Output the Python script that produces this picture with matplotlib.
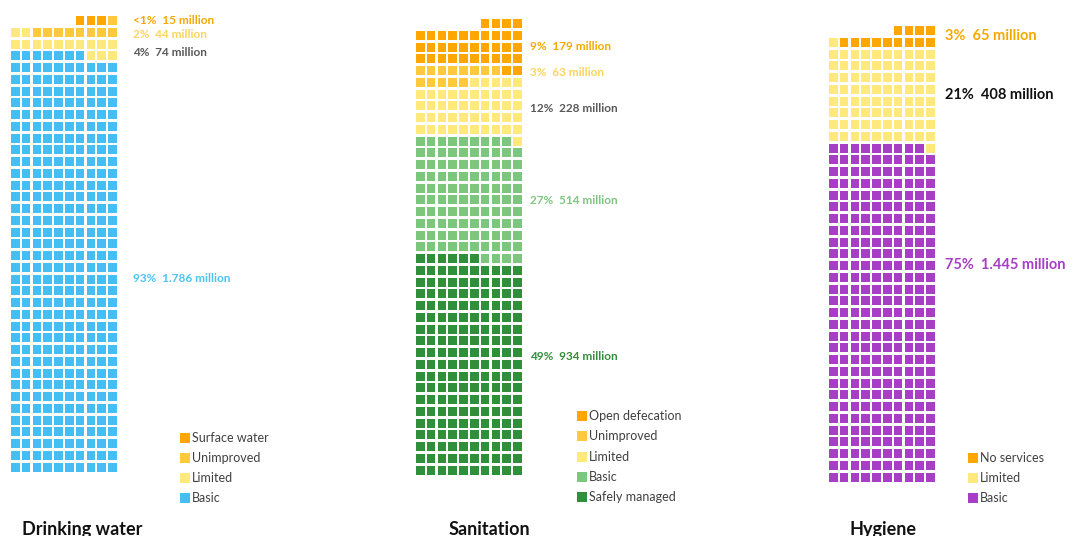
import matplotlib.pyplot as plt
from matplotlib.patches import Rectangle

plt.rcParams['font.family'] = ['Lato', 'DejaVu Sans']

# people (millions) per service level, worst level first
water_labels = ["Surface water", "Unimproved", "Limited", "Basic"]
water_values = [15, 44, 74, 1786]
water_pct = ["<1%", "2%", "4%", "93%"]

san_labels = ["Open defecation", "Unimproved", "Limited", "Basic", "Safely managed"]
san_values = [179, 63, 228, 514, 934]
san_pct = ["9%", "3%", "12%", "27%", "49%"]

hyg_labels = ["No services", "Limited", "Basic"]
hyg_values = [65, 408, 1445]
hyg_pct = ["3%", "21%", "75%"]

titles = ["Drinking water", "Sanitation", "Hygiene"]

MILLION_PER_SQUARE = 5
TOTAL_SQUARES = 384
NCOLS = 10

ORANGE = "#FFA600"
UNIMP = "#FFC93E"
LIMITED = "#FFE97C"

panels = [
    dict(labels=water_labels, values=water_values, pct=water_pct,
         colors=[ORANGE, UNIMP, LIMITED, "#45BEF4"],
         text_colors=["#F7A800", "#FFD35C", "#595959", "#4CC2F5"],
         x0=11, y0=16, first_dir=1, snake=True,
         label_x=133, label_y=[20, 34, 52, 278], label_size=8.5,
         leg_x=180, leg_y=[438, 458, 478, 498],
         title_x=22, title_ha="left"),
    dict(labels=san_labels, values=san_values, pct=san_pct,
         colors=[ORANGE, UNIMP, LIMITED, "#7CC67E", "#2F8F3A"],
         text_colors=["#F7A800", "#FFD35C", "#595959", "#7CC67E", "#2F8F3A"],
         x0=416, y0=19, first_dir=-1, snake=True,
         label_x=530, label_y=[46, 72, 109, 201, 357], label_size=8.5,
         leg_x=577, leg_y=[416, 436, 457, 477, 497],
         title_x=489, title_ha="center"),
    dict(labels=hyg_labels, values=hyg_values, pct=hyg_pct,
         colors=[ORANGE, LIMITED, "#A83EC6"],
         text_colors=["#F7A800", "#111111", "#A83EC6"],
         x0=829, y0=26, first_dir=-1, snake=False,
         label_x=945, label_y=[36, 95, 265], label_size=10.5,
         leg_x=968, leg_y=[458, 478, 498],
         title_x=883, title_ha="center"),
]

PITCH_X = 10.8
PITCH_Y = 11.75
SQ_W = 8.6
SQ_H = 9.2


def square_counts(values):
    counts = [round(v / MILLION_PER_SQUARE) for v in values]
    counts[-1] += TOTAL_SQUARES - sum(counts)
    return counts


def cell_order(total, first_dir, snake):
    nrows = -(-total // NCOLS)
    top = total - (nrows - 1) * NCOLS
    cells = []
    for r in range(nrows):
        d = first_dir if (not snake or r % 2 == 0) else -first_dir
        cols = list(range(NCOLS - top, NCOLS)) if r == 0 else list(range(NCOLS))
        if d < 0:
            cols = cols[::-1]
        cells += [(r, c) for c in cols]
    return cells


fig = plt.figure(figsize=(10.79, 5.36), dpi=100)
ax = fig.add_axes([0, 0, 1, 1])
ax.set_xlim(0, 1079)
ax.set_ylim(536, 0)
ax.axis("off")

for p, title in zip(panels, titles):
    counts = square_counts(p["values"])
    cells = cell_order(sum(counts), p["first_dir"], p["snake"])
    k = 0
    for n, col in zip(counts, p["colors"]):
        for r, c in cells[k:k + n]:
            ax.add_patch(Rectangle((p["x0"] + c * PITCH_X, p["y0"] + r * PITCH_Y),
                                   SQ_W, SQ_H, facecolor=col, edgecolor="none"))
        k += n

    # value labels
    for pct, v, y, tc in zip(p["pct"], p["values"], p["label_y"], p["text_colors"]):
        txt = f"{pct}  {v:,} million".replace(",", ".")
        ax.text(p["label_x"], y, txt, color=tc, fontsize=p["label_size"],
                fontweight="bold", va="center", ha="left")

    # legend
    for lab, y, col in zip(p["labels"], p["leg_y"], p["colors"]):
        ax.add_patch(Rectangle((p["leg_x"], y - 5), 10, 10, facecolor=col, edgecolor="none"))
        ax.text(p["leg_x"] + 12, y, lab, color="#404040", fontsize=9,
                va="center", ha="left")

    ax.text(p["title_x"], 521, title, fontsize=13, fontweight="bold",
            color="#111111", ha=p["title_ha"], va="top")

fig.savefig("out.png", dpi=100, facecolor="white")
